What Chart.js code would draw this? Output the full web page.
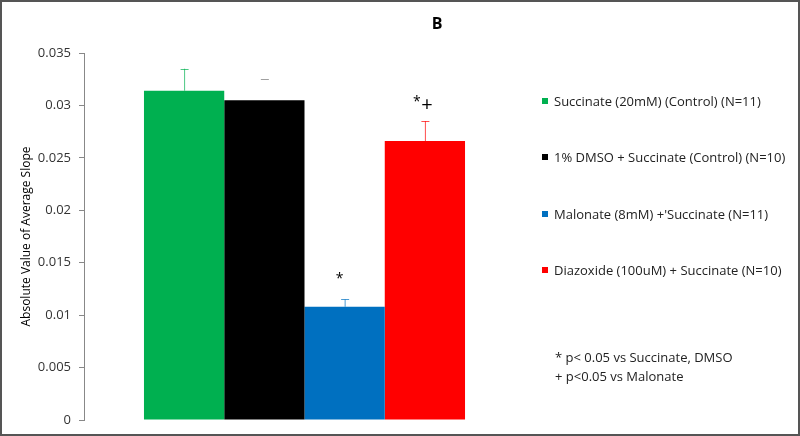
<!DOCTYPE html>
<html>
<head>
<meta charset="utf-8">
<script src="https://cdn.jsdelivr.net/npm/chart.js@4"></script>
<style>
html,body{margin:0;padding:0;background:#fff;}
canvas{display:block;}
</style>
</head>
<body>
<canvas id="c" width="800" height="436"></canvas>
<script>
const categories = [''];
const seriesNames = [
  'Succinate (20mM) (Control) (N=11)',
  '1% DMSO + Succinate (Control) (N=10)',
  "Malonate (8mM) +'Succinate (N=11)",
  'Diazoxide (100uM) + Succinate (N=10)'
];
const seriesValues = [0.0314, 0.0305, 0.0108, 0.0266];
const seriesErrors = [0.0021, 0.0020, 0.0007, 0.0019];
const seriesColors = ['#00B050', '#000000', '#0070C0', '#FF0000'];
const significance = ['', '', '*', '*+'];
const footnotes = ['* p< 0.05 vs Succinate, DMSO', '+ p<0.05 vs Malonate'];
const yTicks = [0, 0.005, 0.01, 0.015, 0.02, 0.025, 0.03, 0.035];

const FONT = '"Open Sans", "DejaVu Sans", sans-serif';

const extras = {
  id: 'extras',
  afterDatasetsDraw(chart) {
    const ctx = chart.ctx;
    const y = chart.scales.y;
    ctx.save();
    chart.data.datasets.forEach((ds, i) => {
      const el = chart.getDatasetMeta(i).data[0];
      const x = el.x;
      const top = y.getPixelForValue(seriesValues[i]);
      const et = y.getPixelForValue(seriesValues[i] + seriesErrors[i]);
      const col = i === 1 ? '#777' : seriesColors[i];
      ctx.strokeStyle = col;
      ctx.lineWidth = 1;
      ctx.globalAlpha = 0.7;
      if (i !== 1) {
        ctx.beginPath();
        ctx.moveTo(x + 0.5, top);
        ctx.lineTo(x + 0.5, et);
        ctx.stroke();
      }
      ctx.beginPath();
      ctx.moveTo(x - 3.5, Math.round(et) + 0.5);
      ctx.lineTo(x + 4.5, Math.round(et) + 0.5);
      ctx.stroke();
      ctx.globalAlpha = 1;
    });
    ctx.fillStyle = '#000';
    chart.data.datasets.forEach((ds, i) => {
      const s = significance[i];
      if (!s) return;
      const el = chart.getDatasetMeta(i).data[0];
      const et = y.getPixelForValue(seriesValues[i] + seriesErrors[i]);
      ctx.textAlign = 'center';
      ctx.textBaseline = 'middle';
      if (s === '*') {
        ctx.font = '14px ' + FONT;
        ctx.fillText('*', el.x - 5, et - 20);
      } else {
        ctx.font = '14px ' + FONT;
        ctx.fillText('*', el.x - 8, et - 19);
        ctx.font = '20px ' + FONT;
        ctx.fillText('+', el.x + 2, et - 16);
      }
    });
    ctx.restore();
  },
  afterDraw(chart) {
    const ctx = chart.ctx;
    ctx.save();
    ctx.fillStyle = '#000';
    ctx.font = 'bold 16px ' + FONT;
    ctx.textAlign = 'center';
    ctx.textBaseline = 'middle';
    ctx.fillText('B', 437, 24);
    ctx.font = '13px ' + FONT;
    ctx.textAlign = 'left';
    const rows = [101, 157, 214, 270];
    seriesNames.forEach((n, i) => {
      ctx.fillStyle = seriesColors[i];
      ctx.fillRect(542, rows[i] - 3, 6, 6);
      ctx.fillStyle = '#222';
      ctx.fillText(n, 554, rows[i] + 1);
    });
    ctx.fillText(footnotes[0], 555, 358);
    ctx.fillText(footnotes[1], 555, 377);
    ctx.strokeStyle = '#555';
    ctx.lineWidth = 2;
    ctx.strokeRect(1, 1, 798, 434);
    ctx.restore();
  }
};

new Chart(document.getElementById('c'), {
  type: 'bar',
  data: {
    labels: categories,
    datasets: seriesNames.map((n, i) => ({
      label: n,
      data: [seriesValues[i]],
      backgroundColor: seriesColors[i],
      borderWidth: 0,
      barPercentage: 1,
      categoryPercentage: 0.728
    }))
  },
  options: {
    responsive: false,
    animation: false,
    devicePixelRatio: 1,
    layout: { padding: { left: 0, right: 275, top: 53, bottom: 16 } },
    plugins: { legend: { display: false }, tooltip: { enabled: false }, title: { display: false } },
    scales: {
      x: { display: false },
      y: {
        min: 0, max: 0.035,
        afterBuildTicks(s) { s.ticks = yTicks.map(v => ({ value: v })); },
        afterFit(s) { s.width = 84; },
        grid: { drawOnChartArea: false, tickLength: 5, color: '#888' },
        border: { color: '#888' },
        ticks: {
          padding: 8,
          color: '#333',
          font: { family: FONT, size: 13 },
          callback: v => String(Math.round(v * 1000) / 1000)
        },
        title: {
          display: true,
          text: 'Absolute Value of Average Slope',
          color: '#000',
          font: { family: FONT, size: 12 },
          padding: { top: 19, bottom: 0 }
        }
      }
    }
  },
  plugins: [extras]
});
</script>
</body>
</html>
